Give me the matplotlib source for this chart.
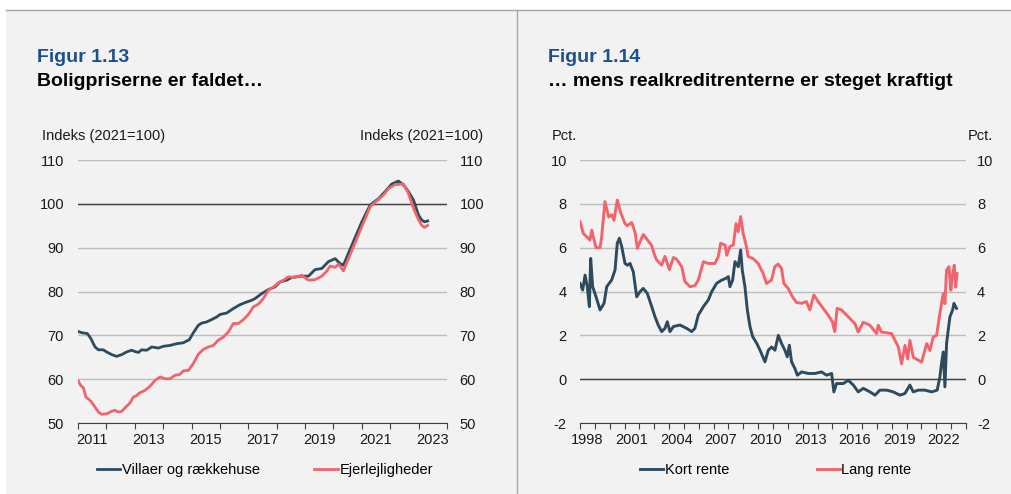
import matplotlib
matplotlib.use("Agg")
import matplotlib.pyplot as plt
from matplotlib.lines import Line2D
from matplotlib.patches import Rectangle

plt.rcParams['font.family'] = ['Liberation Sans', 'DejaVu Sans']
plt.rcParams['axes.unicode_minus'] = False

# Figur 1.13 - boligpriser, indeks (2021=100)
villa_year = [2011.00, 2011.13, 2011.33, 2011.45, 2011.60, 2011.72, 2011.89, 2012.01, 2012.19, 2012.36,
              2012.54, 2012.71, 2012.89, 2013.01, 2013.13, 2013.24, 2013.42, 2013.60, 2013.83, 2014.01,
              2014.24, 2014.48, 2014.71, 2014.92, 2015.06, 2015.24, 2015.36, 2015.53, 2015.71, 2015.89,
              2016.00, 2016.24, 2016.47, 2016.71, 2016.94, 2017.12, 2017.24, 2017.47, 2017.71, 2017.94,
              2018.12, 2018.36, 2018.53, 2018.83, 2019.12, 2019.35, 2019.59, 2019.82, 2020.06, 2020.23,
              2020.35, 2020.65, 2021.00, 2021.29, 2021.59, 2021.82, 2022.05, 2022.29, 2022.47, 2022.64,
              2022.82, 2023.00, 2023.11, 2023.21, 2023.32]
villa_val = [70.9, 70.6, 70.4, 69.3, 67.35, 66.7, 66.7, 66.2, 65.6, 65.2,
             65.6, 66.2, 66.6, 66.3, 66.1, 66.7, 66.6, 67.35, 67.1, 67.5,
             67.7, 68.1, 68.3, 69.0, 70.55, 72.3, 72.8, 73.05, 73.6, 74.2,
             74.75, 75.1, 76.1, 77.0, 77.6, 78.0, 78.4, 79.5, 80.45, 81.05,
             82.2, 82.6, 83.2, 83.5, 83.5, 85.0, 85.25, 86.8, 87.5, 86.4,
             86.0, 90.6, 95.9, 99.7, 101.2, 102.8, 104.5, 105.2, 104.3, 102.8,
             100.85, 97.4, 96.3, 95.9, 96.1]

lejl_year = [2011.00, 2011.09, 2011.19, 2011.28, 2011.45, 2011.56, 2011.72, 2011.83, 2012.01, 2012.19,
             2012.30, 2012.42, 2012.54, 2012.66, 2012.83, 2012.95, 2013.07, 2013.18, 2013.36, 2013.54,
             2013.71, 2013.89, 2014.07, 2014.24, 2014.42, 2014.59, 2014.71, 2014.89, 2015.06, 2015.24,
             2015.42, 2015.59, 2015.77, 2015.94, 2016.12, 2016.30, 2016.47, 2016.65, 2016.83, 2017.00,
             2017.18, 2017.35, 2017.53, 2017.71, 2017.89, 2018.06, 2018.24, 2018.41, 2018.65, 2018.88,
             2019.12, 2019.35, 2019.59, 2019.76, 2019.88, 2020.06, 2020.18, 2020.35, 2020.65, 2021.00,
             2021.29, 2021.53, 2021.76, 2021.94, 2022.17, 2022.47, 2022.64, 2022.82, 2023.00, 2023.11,
             2023.21, 2023.32]
lejl_val = [59.7, 58.6, 58.05, 55.9, 55.0, 54.0, 52.5, 52.0, 52.1, 52.7,
            52.9, 52.5, 52.65, 53.5, 54.55, 55.9, 56.3, 56.9, 57.45, 58.4,
            59.7, 60.5, 60.1, 60.1, 60.9, 61.1, 61.9, 62.0, 63.55, 65.7,
            66.8, 67.35, 67.7, 68.9, 69.6, 70.8, 72.7, 72.7, 73.6, 74.75,
            76.5, 77.1, 78.4, 80.3, 81.05, 82.0, 82.6, 83.35, 83.2, 83.7,
            82.6, 82.7, 83.5, 84.6, 85.8, 85.5, 86.25, 84.7, 89.4, 94.8,
            99.3, 100.7, 102.0, 103.5, 104.4, 104.5, 102.4, 98.95, 96.3, 95.1,
            94.6, 95.1]

# Figur 1.14 - realkreditrenter, pct.
kort_year = [1998.00, 1998.18, 1998.34, 1998.49, 1998.63, 1998.72, 1998.85, 1999.08, 1999.35, 1999.62,
             1999.80, 2000.13, 2000.36, 2000.51, 2000.65, 2000.81, 2001.03, 2001.19, 2001.37, 2001.59,
             2001.82, 2002.04, 2002.26, 2002.53, 2002.83, 2003.05, 2003.27, 2003.50, 2003.72, 2003.88,
             2004.06, 2004.29, 2004.73, 2005.18, 2005.52, 2005.74, 2005.97, 2006.31, 2006.64, 2006.87,
             2007.20, 2007.54, 2007.83, 2007.99, 2008.10, 2008.28, 2008.44, 2008.66, 2008.82, 2008.93,
             2009.11, 2009.27, 2009.45, 2009.63, 2009.90, 2010.12, 2010.46, 2010.68, 2010.91, 2011.13,
             2011.36, 2011.58, 2011.80, 2011.96, 2012.10, 2012.25, 2012.48, 2012.64, 2012.93, 2013.38,
             2013.82, 2014.27, 2014.61, 2014.95, 2015.10, 2015.28, 2015.73, 2016.07, 2016.41, 2016.74,
             2017.08, 2017.53, 2017.87, 2018.20, 2018.65, 2019.10, 2019.55, 2019.89, 2020.22, 2020.45,
             2020.78, 2021.23, 2021.68, 2022.06, 2022.24, 2022.35, 2022.47, 2022.58, 2022.69, 2022.80,
             2022.92, 2023.10, 2023.19, 2023.36]
kort_val = [4.37, 4.07, 4.75, 4.22, 3.31, 5.51, 4.22, 3.76, 3.16, 3.46,
            4.22, 4.52, 4.98, 6.20, 6.43, 6.05, 5.28, 5.20, 5.28, 4.90,
            3.76, 3.99, 4.14, 3.92, 3.31, 2.85, 2.47, 2.17, 2.32, 2.62,
            2.17, 2.40, 2.47, 2.32, 2.17, 2.32, 2.93, 3.31, 3.61, 3.99,
            4.37, 4.52, 4.60, 4.68, 4.22, 4.52, 5.36, 5.13, 5.89, 4.98,
            4.22, 3.16, 2.40, 1.94, 1.64, 1.33, 0.79, 1.32, 1.47, 1.32,
            2.00, 1.62, 1.32, 1.02, 1.55, 0.79, 0.48, 0.18, 0.33, 0.26,
            0.26, 0.33, 0.18, 0.26, -0.58, -0.20, -0.20, -0.05, -0.27, -0.58,
            -0.42, -0.58, -0.73, -0.50, -0.50, -0.58, -0.73, -0.65, -0.27, -0.58,
            -0.50, -0.50, -0.58, -0.50, 0.10, 0.71, 1.24, -0.35, 1.62, 2.23,
            2.85, 3.16, 3.46, 3.23]

lang_year = [1998.00, 1998.22, 1998.67, 1998.79, 1999.08, 1999.35, 1999.46, 1999.68, 1999.93, 2000.13,
             2000.29, 2000.51, 2000.74, 2001.03, 2001.19, 2001.48, 2001.71, 2001.86, 2002.09, 2002.27,
             2002.49, 2002.83, 2002.98, 2003.16, 2003.50, 2003.72, 2004.02, 2004.29, 2004.51, 2004.85,
             2005.07, 2005.41, 2005.74, 2005.97, 2006.31, 2006.64, 2007.09, 2007.32, 2007.47, 2007.77,
             2007.88, 2008.10, 2008.33, 2008.51, 2008.66, 2008.82, 2008.99, 2009.21, 2009.32, 2009.66,
             2010.00, 2010.33, 2010.56, 2010.90, 2011.12, 2011.35, 2011.57, 2011.73, 2012.02, 2012.31,
             2012.58, 2012.92, 2013.25, 2013.48, 2013.75, 2014.04, 2014.38, 2014.71, 2015.00, 2015.16,
             2015.32, 2015.61, 2015.95, 2016.20, 2016.52, 2016.74, 2017.08, 2017.53, 2017.98, 2018.09,
             2018.31, 2018.99, 2019.44, 2019.66, 2019.89, 2020.07, 2020.22, 2020.45, 2021.01, 2021.35,
             2021.57, 2021.79, 2022.02, 2022.24, 2022.47, 2022.58, 2022.69, 2022.85, 2022.98, 2023.07,
             2023.21, 2023.30, 2023.40]
lang_val = [7.19, 6.65, 6.35, 6.80, 6.00, 6.00, 6.50, 8.10, 7.40, 7.50,
            7.25, 8.17, 7.60, 7.10, 7.00, 7.15, 6.70, 5.97, 6.35, 6.60,
            6.40, 6.10, 5.74, 5.44, 5.20, 5.60, 5.00, 5.55, 5.47, 5.13,
            4.45, 4.22, 4.27, 4.52, 5.36, 5.28, 5.28, 5.60, 6.20, 6.12,
            5.65, 6.05, 6.12, 7.10, 6.73, 7.42, 6.65, 6.05, 5.60, 5.50,
            5.28, 4.83, 4.37, 4.52, 5.13, 5.25, 5.06, 4.37, 4.14, 3.76,
            3.50, 3.46, 3.54, 3.16, 3.84, 3.54, 3.23, 2.93, 2.62, 2.17,
            3.23, 3.16, 2.93, 2.75, 2.53, 2.15, 2.60, 2.46, 2.08, 2.46,
            2.15, 2.08, 1.47, 0.70, 1.54, 0.93, 1.77, 1.00, 0.78, 1.62,
            1.31, 1.92, 2.00, 3.00, 3.90, 3.45, 4.97, 5.13, 4.06, 4.67,
            5.20, 4.20, 4.82]

left_yticks = [50, 60, 70, 80, 90, 100, 110]
right_yticks = [-2, 0, 2, 4, 6, 8, 10]
left_labels = ['2011', '2013', '2015', '2017', '2019', '2021', '2023']
right_labels = ['1998', '2001', '2004', '2007', '2010', '2013', '2016', '2019', '2022']

DARK = '#2e4a5d'
RED = '#f2646b'
TITLE_BLUE = '#1c4f91'

W, H = 1012, 494
fig = plt.figure(figsize=(W / 100, H / 100), dpi=100, facecolor='white')


def fx(px):
    return px / W


def fy(py):
    return 1 - py / H


# grå baggrund og rammer
fig.add_artist(Rectangle((fx(6), 0), 1 - fx(6), fy(10), transform=fig.transFigure,
                         facecolor='#f2f2f2', edgecolor='none', zorder=-10))
fig.add_artist(Line2D([fx(6), 1], [fy(10), fy(10)], color='#a6a6a6', lw=1))
fig.add_artist(Line2D([fx(517), fx(517)], [0, fy(10)], color='#a6a6a6', lw=1))


def make_axes(x0, x1, ylim, yticks, xlim, label_years, labels, refline, padl, padr):
    ax = fig.add_axes([fx(x0), fy(423), fx(x1) - fx(x0), fy(160) - fy(423)])
    ax.set_facecolor('none')
    ax.set_axisbelow(True)
    ax.set_xlim(xlim)
    ax.set_ylim(ylim)
    for s in ['top', 'left', 'right']:
        ax.spines[s].set_visible(False)
    ax.spines['bottom'].set_color('#404040')
    ax.set_yticks(yticks)
    ax.grid(axis='y', color='#bdbdbd', lw=1)
    ax.axhline(refline, color='#404040', lw=1, zorder=1.5)
    ax.tick_params(axis='y', length=0, labelsize=10.5, pad=padl, labelcolor='#1a1a1a')
    ax.set_xticks(range(int(xlim[0]), int(xlim[1]) + 1))
    ax.set_xticklabels([])
    ax.set_xticks([y + 0.5 for y in label_years], minor=True)
    ax.set_xticklabels(labels, minor=True)
    ax.tick_params(axis='x', which='major', direction='out', length=4, color='#404040')
    ax.tick_params(axis='x', which='minor', length=0, labelsize=10.5, pad=7, labelcolor='#1a1a1a')
    ax2 = ax.twinx()
    ax2.set_ylim(ylim)
    ax2.set_yticks(yticks)
    for s in ax2.spines.values():
        s.set_visible(False)
    ax2.tick_params(axis='y', length=0, labelsize=10.5, pad=padr, labelcolor='#1a1a1a')
    return ax


# venstre figur
ax1 = make_axes(78, 447, (50, 110), left_yticks, (2011, 2024),
                [int(t) for t in left_labels], left_labels, 100, 10, 9)
l1, = ax1.plot(villa_year, villa_val, color=DARK, lw=2, zorder=3)
l2, = ax1.plot(lejl_year, lejl_val, color=RED, lw=2, zorder=4)

# højre figur
ax3 = make_axes(580, 966, (-2, 10), right_yticks, (1998, 2024),
                [int(t) for t in right_labels], right_labels, 0, 9.5, 8)
l3, = ax3.plot(kort_year, kort_val, color=DARK, lw=2.1, zorder=3)
l4, = ax3.plot(lang_year, lang_val, color=RED, lw=2.1, zorder=4)

# titler
fig.text(fx(37), fy(61.5), 'Figur 1.13', color=TITLE_BLUE, fontsize=14, fontweight='bold', va='baseline')
fig.text(fx(37), fy(86.5), 'Boligpriserne er faldet…', color='black', fontsize=14, fontweight='bold', va='baseline')
fig.text(fx(548), fy(61.5), 'Figur 1.14', color=TITLE_BLUE, fontsize=14, fontweight='bold', va='baseline')
fig.text(fx(548), fy(86.5), '… mens realkreditrenterne er steget kraftigt', color='black', fontsize=14,
         fontweight='bold', va='baseline')

fig.text(fx(42), fy(140), 'Indeks (2021=100)', fontsize=10.5, va='baseline', color='#1a1a1a')
fig.text(fx(483), fy(140), 'Indeks (2021=100)', fontsize=10.5, va='baseline', ha='right', color='#1a1a1a')
fig.text(fx(552), fy(140), 'Pct.', fontsize=10.5, va='baseline', color='#1a1a1a')
fig.text(fx(993), fy(140), 'Pct.', fontsize=10.5, va='baseline', ha='right', color='#1a1a1a')

# forklaringer
fig.legend([l1, l2], ['Villaer og rækkehuse', 'Ejerlejligheder'], loc='center left',
           bbox_to_anchor=(fx(97), fy(470)), ncol=2, frameon=False, fontsize=10.5,
           handlelength=1.6, handletextpad=0.1, columnspacing=3.75, borderpad=0, borderaxespad=0)
fig.legend([l3, l4], ['Kort rente', 'Lang rente'], loc='center left',
           bbox_to_anchor=(fx(640), fy(470)), ncol=2, frameon=False, fontsize=10.5,
           handlelength=1.6, handletextpad=0.1, columnspacing=6.0, borderpad=0, borderaxespad=0)

fig.savefig('out.png', dpi=100, facecolor=fig.get_facecolor())
